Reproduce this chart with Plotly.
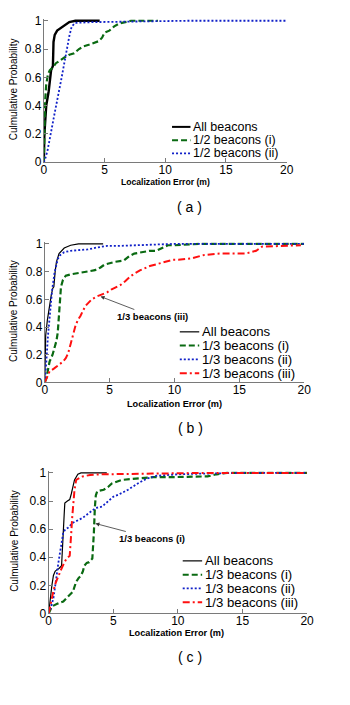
import plotly.graph_objects as go

W, H = 350, 705
FONT = "Liberation Sans, Arial, sans-serif"

# ---------------- data ----------------
# Panel (a)
a_all_x = [0, 0.05, 0.2, 0.4, 0.6, 0.75, 0.8, 0.9, 1.1, 1.4, 1.8, 2.1, 2.6, 4.6]
a_all_y = [0, 0.2, 0.4, 0.5, 0.65, 0.68, 0.85, 0.9, 0.93, 0.95, 0.97, 0.99, 1.0, 1.0]
a_half1_x = [0, 0.05, 0.1, 0.2, 0.35, 0.5, 0.75, 1.0, 1.3, 1.7, 2.1, 2.5, 2.9, 3.3, 3.7,
             4.1, 4.5, 4.8, 5.0, 5.4, 5.8, 6.2, 6.6, 7.2, 9.4]
a_half1_y = [0, 0.2, 0.42, 0.55, 0.625, 0.65, 0.67, 0.7, 0.72, 0.74, 0.76, 0.77, 0.8, 0.82, 0.83,
             0.84, 0.855, 0.88, 0.915, 0.93, 0.96, 0.98, 0.99, 1.0, 1.0]
a_half2_x = [0, 0.1, 0.3, 0.5, 0.7, 0.9, 1.1, 1.3, 1.45, 1.6, 1.8, 1.95, 2.1, 2.3, 2.6, 4, 8, 12, 20]
a_half2_y = [0, 0.02, 0.08, 0.16, 0.26, 0.35, 0.43, 0.51, 0.59, 0.66, 0.76, 0.83, 0.89, 0.96,
             0.985, 0.99, 0.995, 1.0, 1.0]

# Panel (b)
b_all_x = [0, 0.03, 0.07, 0.2, 0.35, 0.5, 0.62, 0.7, 0.8, 0.9, 1.1, 1.5, 2.0, 2.6, 4.5]
b_all_y = [0, 0.2, 0.34, 0.45, 0.55, 0.63, 0.68, 0.69, 0.8, 0.87, 0.93, 0.97, 0.99, 1.0, 1.0]
b_third1_x = [0, 0.12, 0.37, 0.6, 0.75, 0.9, 1.0, 1.08, 1.15, 1.25, 1.4, 1.62, 2.0, 2.6, 3.2,
              3.87, 4.3, 4.6, 5.0, 5.4, 6.1, 6.5, 6.9, 7.5, 8.1, 8.6, 9.1, 9.5, 10, 12, 15, 20]
b_third1_y = [0, 0.03, 0.15, 0.2, 0.25, 0.3, 0.36, 0.48, 0.58, 0.69, 0.74, 0.77, 0.78, 0.79, 0.8,
              0.81, 0.83, 0.85, 0.86, 0.87, 0.88, 0.91, 0.93, 0.94, 0.95, 0.95, 0.97, 0.99, 0.99,
              1.0, 1.0, 1.0]
b_third2_x = [0, 0.05, 0.12, 0.25, 0.43, 0.57, 0.75, 0.9, 1.0, 1.2, 1.5, 2.0, 2.6, 3.3, 4.1,
              4.8, 5.6, 7.1, 8, 10, 15, 20]
b_third2_y = [0, 0.05, 0.15, 0.34, 0.53, 0.67, 0.79, 0.86, 0.89, 0.92, 0.94, 0.95, 0.955, 0.96,
              0.975, 0.985, 0.985, 0.99, 0.995, 1.0, 1.0, 1.0]
b_third3_x = [0, 0.15, 0.37, 0.7, 1.12, 1.4, 1.62, 1.8, 2.0, 2.2, 2.37, 2.55, 2.75, 3.12, 3.4,
              3.62, 4.0, 4.37, 4.8, 5.12, 5.5, 5.87, 6.2, 6.6, 7.0, 7.37, 8.1, 8.87, 9.4, 9.87,
              10.3, 11.3, 12.3, 13.5, 15.5, 16.3, 16.75, 18, 19.75]
b_third3_y = [0, 0.03, 0.08, 0.1, 0.13, 0.15, 0.175, 0.21, 0.28, 0.36, 0.41, 0.45, 0.48, 0.55,
              0.58, 0.6, 0.62, 0.635, 0.65, 0.67, 0.69, 0.705, 0.73, 0.765, 0.79, 0.81, 0.84,
              0.86, 0.87, 0.885, 0.885, 0.895, 0.92, 0.93, 0.93, 0.95, 0.98, 0.985, 0.99]

# Panel (c)
c_all_x = [0, 0.12, 0.25, 0.37, 0.5, 0.62, 0.8, 1.0, 1.08, 1.13, 1.2, 1.25, 1.45, 1.63, 1.75,
           1.83, 2.0, 2.26, 2.5, 4.5]
c_all_y = [0, 0.11, 0.2, 0.27, 0.3, 0.31, 0.32, 0.34, 0.45, 0.575, 0.7, 0.785, 0.8, 0.81, 0.85,
           0.88, 0.95, 0.99, 1.0, 1.0]
c_third1_x = [0, 0.25, 0.7, 1.13, 1.5, 1.88, 2.0, 2.13, 2.3, 2.5, 2.65, 2.76, 2.95, 3.13, 3.38,
              3.45, 3.5, 3.58, 3.65, 3.76, 4.26, 4.6, 4.89, 5.64, 6.9, 8.1, 9.5, 12.3, 13.0,
              13.8, 20]
c_third1_y = [0, 0.05, 0.07, 0.085, 0.12, 0.155, 0.19, 0.225, 0.25, 0.27, 0.3, 0.34, 0.36, 0.365,
              0.39, 0.48, 0.575, 0.76, 0.84, 0.87, 0.88, 0.9, 0.925, 0.95, 0.96, 0.97, 0.97,
              0.975, 0.99, 1.0, 1.0]
c_third2_x = [0, 0.2, 0.37, 0.5, 0.62, 0.75, 0.88, 1.0, 1.13, 1.3, 1.5, 1.88, 2.25, 2.63, 3.13,
              3.63, 4.13, 4.63, 5.0, 5.4, 6.14, 6.9, 7.6, 8.4, 10, 12, 15, 20]
c_third2_y = [0, 0.05, 0.11, 0.18, 0.27, 0.36, 0.435, 0.5, 0.575, 0.6, 0.61, 0.645, 0.66, 0.68,
              0.715, 0.75, 0.76, 0.8, 0.83, 0.845, 0.88, 0.925, 0.96, 0.98, 0.99, 0.995, 1.0, 1.0]
c_third3_x = [0, 0.13, 0.37, 0.55, 0.75, 1.0, 1.2, 1.38, 1.63, 1.7, 1.75, 1.82, 1.88, 1.95, 2.0,
              2.13, 2.4, 2.63, 3.2, 4.1, 8, 12, 20]
c_third3_y = [0, 0.06, 0.16, 0.22, 0.27, 0.32, 0.36, 0.39, 0.41, 0.48, 0.575, 0.68, 0.76, 0.83,
              0.88, 0.95, 0.965, 0.975, 0.985, 0.99, 0.995, 1.0, 1.0]

x_ticks = [0, 5, 10, 15, 20]
y_ticks = [0, 0.2, 0.4, 0.6, 0.8, 1.0]
y_ticktext = ["0", "0.2", "0.4", "0.6", "0.8", "1"]

labels_a = ["All beacons", "1/2 beacons (i)", "1/2 beacons (ii)"]
labels_bc = ["All beacons", "1/3 beacons (i)", "1/3 beacons (ii)", "1/3 beacons (iii)"]
panel_tags = ["( a )", "( b )", "( c )"]
y_title = "Culmulative Probability"
x_title = "Localization Error (m)"
note_b = "1/3 beacons (iii)"
note_c = "1/3 beacons (i)"

# ---------------- styles ----------------
BLACK = "#000000"
GREEN = "#0a6a12"
BLUE = "#1020c8"
RED = "#ff1010"
DASH = "6px,3px"
DOT = "2px,2px"
DASHDOT = "7px,3px,2px,3px"


def px2x(px):
    return px / W


def py2y(py):
    return 1 - py / H


# panel geometry in pixels: (x0, x20, y1, y0)
panels = [
    (42, 292, 16, 160),
    (43, 310, 243, 384),
    (47, 313, 476, 619),
]

fig = go.Figure()

series = [
    [(a_all_x, a_all_y, BLACK, "solid", 2.4),
     (a_half1_x, a_half1_y, GREEN, DASH, 2.2),
     (a_half2_x, a_half2_y, BLUE, DOT, 1.8)],
    [(b_all_x, b_all_y, BLACK, "solid", 1.2),
     (b_third1_x, b_third1_y, GREEN, DASH, 2.2),
     (b_third2_x, b_third2_y, BLUE, DOT, 1.8),
     (b_third3_x, b_third3_y, RED, DASHDOT, 2.0)],
    [(c_all_x, c_all_y, BLACK, "solid", 1.2),
     (c_third1_x, c_third1_y, GREEN, DASH, 2.2),
     (c_third2_x, c_third2_y, BLUE, DOT, 1.8),
     (c_third3_x, c_third3_y, RED, DASHDOT, 2.0)],
]
legend_labels = [labels_a, labels_bc, labels_bc]

for i, group in enumerate(series):
    sfx = "" if i == 0 else str(i + 1)
    for j, (xs, ys, col, dash, lw) in enumerate(group):
        fig.add_trace(go.Scatter(
            x=xs, y=ys, mode="lines", name=legend_labels[i][j],
            line=dict(color=col, dash=dash, width=lw),
            xaxis="x" + sfx, yaxis="y" + sfx, showlegend=False,
        ))

layout = dict(
    width=W, height=H, margin=dict(l=0, r=0, t=0, b=0),
    paper_bgcolor="white", plot_bgcolor="white",
    font=dict(family=FONT, color="black", size=12),
    showlegend=False,
)

YMAX = 1.012
for i, (x0, x1, y1, y0) in enumerate(panels):
    sfx = "" if i == 0 else str(i + 1)
    top = y1 - (YMAX - 1) * (y0 - y1)
    layout["xaxis" + sfx] = dict(
        domain=[px2x(x0), px2x(x1)], range=[0, 20], anchor="y" + sfx,
        showline=True, linecolor="#7a7a7a", linewidth=1,
        ticks="inside", ticklen=4, tickcolor="#7a7a7a",
        tickvals=x_ticks, showgrid=False, zeroline=False,
        ticklabelstandoff=-4,
        tickfont=dict(size=12, color="black"),
    )
    layout["yaxis" + sfx] = dict(
        domain=[py2y(y0), py2y(top)], range=[0, YMAX], anchor="x" + sfx,
        showline=True, linecolor="#7a7a7a", linewidth=1,
        ticks="inside", ticklen=4, tickcolor="#7a7a7a",
        tickvals=y_ticks, ticktext=y_ticktext, showgrid=False, zeroline=False,
        ticklabelstandoff=-1,
        tickfont=dict(size=12, color="black"),
    )
fig.update_layout(**layout)

annotations = []
shapes = []

# axis titles and panel tags
ytitle_x = [11, 10, 12]
xtitle_y = [180, 406, 639]
xtitle_x = [167, 176.5, 178.5]
xtitle_size = [8.6, 9.2, 9.2]
tag_pos = [(192, 205), (193, 430), (192, 663)]
for i, (x0, x1, y1, y0) in enumerate(panels):
    annotations.append(dict(
        text=y_title, xref="paper", yref="paper",
        x=px2x(ytitle_x[i]), y=py2y((y0 + y1) / 2 - 2), textangle=-90,
        showarrow=False, xanchor="center", yanchor="middle",
        font=dict(family=FONT, size=10, color="black"),
    ))
    annotations.append(dict(
        text="<b>" + x_title + "</b>", xref="paper", yref="paper",
        x=px2x(xtitle_x[i]), y=py2y(xtitle_y[i]),
        showarrow=False, xanchor="center", yanchor="middle",
        font=dict(family=FONT, size=xtitle_size[i], color="black"),
    ))
    annotations.append(dict(
        text=panel_tags[i], xref="paper", yref="paper",
        x=px2x(tag_pos[i][0]), y=py2y(tag_pos[i][1]),
        showarrow=False, xanchor="center", yanchor="middle",
        font=dict(family=FONT, size=14, color="black"),
    ))

# manual legends (key line + text)
legend_geo = [
    dict(lx0=174, lx1=193, tx=195, ys=[124, 137.5, 151], fs=12.5),
    dict(lx0=182, lx1=202, tx=204, ys=[332.5, 346.5, 360.5, 374.5], fs=13.2),
    dict(lx0=185, lx1=205, tx=207, ys=[565.5, 579.5, 593.5, 607.5], fs=13.2),
]
for i, geo in enumerate(legend_geo):
    for j, yy in enumerate(geo["ys"]):
        _, _, col, dash, lw = series[i][j]
        shapes.append(dict(
            type="line", xref="paper", yref="paper",
            x0=px2x(geo["lx0"]), x1=px2x(geo["lx1"]), y0=py2y(yy), y1=py2y(yy),
            line=dict(color=col, dash=dash, width=min(lw, 2)),
        ))
        annotations.append(dict(
            text=legend_labels[i][j], xref="paper", yref="paper",
            x=px2x(geo["tx"]), y=py2y(yy), showarrow=False,
            xanchor="left", yanchor="middle", borderpad=0,
            font=dict(family=FONT, size=geo["fs"], color="black"),
        ))

# arrow call-outs
annotations.append(dict(
    text="<b>" + note_b + "</b>", xref="x2", yref="y2", x=4.3, y=0.62,
    ax=52, ay=20, showarrow=True, arrowhead=2, arrowsize=1, arrowwidth=0.8,
    arrowcolor="#333333", font=dict(family=FONT, size=9.5, color="black"),
))
annotations.append(dict(
    text="<b>" + note_c + "</b>", xref="x3", yref="y3", x=3.62, y=0.64,
    ax=57, ay=15, showarrow=True, arrowhead=2, arrowsize=1, arrowwidth=0.8,
    arrowcolor="#333333", font=dict(family=FONT, size=9.5, color="black"),
))

fig.update_layout(annotations=annotations, shapes=shapes)
fig.write_html("out.html")
